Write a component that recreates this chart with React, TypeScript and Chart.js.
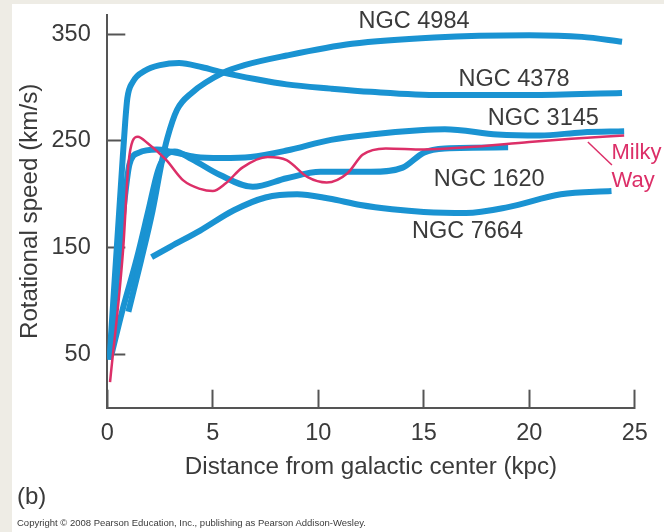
import React, { useEffect, useRef } from 'react';
import { Chart, registerables } from 'chart.js';

Chart.register(...registerables);

const FONT = "'Liberation Sans', Arial, Helvetica, sans-serif";
const BLUE = '#1a93d2';
const PINK = '#dc2f68';
const TEXT = '#3a3a3a';
const AXIS = '#555555';

// Axis ticks
const xTickStep = 5;
const yTicks = [50, 150, 250, 350];

// Distance from galactic center (kpc) / rotational speed (km/s)
const ngc4984X = [1.0, 1.6, 2.15, 2.6, 2.85, 3.3, 4.0, 5.5, 6.5, 8.5, 11.6, 15.5, 20.0, 22.5, 24.4];
const ngc4984Y = [90, 138, 185, 232, 253, 279, 295, 314, 321, 330, 341, 347, 349, 347.5, 343];

const ngc4378X = [0.1, 0.45, 0.7, 0.85, 0.95, 1.2, 1.8, 2.5, 3.4, 4.5, 5.5, 7.0, 8.5, 10.6, 12.5, 15.8, 20.0, 24.4];
const ngc4378Y = [45, 150, 225, 268, 290, 305, 316, 321, 323, 319, 314, 308, 303, 299, 296, 293, 293, 295];

const ngc3145X = [0.1, 0.6, 0.85, 1.05, 1.5, 2.35, 3.0, 4.2, 5.4, 6.8, 8.5, 10.6, 12.5, 14.8, 16.0, 18.5, 20.5, 22.5, 24.5];
const ngc3145Y = [45, 150, 200, 228, 239, 242, 240, 235, 234, 235, 241, 251, 256, 260, 261, 256, 255, 258, 259];

const ngc1620X = [0.2, 0.7, 1.4, 1.95, 2.4, 2.75, 3.2, 4.0, 5.35, 6.9, 8.5, 10.1, 12.5, 14.0, 15.0, 16.0, 19.0];
const ngc1620Y = [50, 90, 140, 185, 222, 236, 240, 233, 218, 207, 215, 221, 221, 225, 239, 243, 244];

const ngc7664X = [2.1, 3.0, 4.4, 6.0, 7.5, 9.0, 10.5, 12.0, 13.5, 15.0, 17.0, 19.0, 21.5, 23.9];
const ngc7664Y = [141, 151, 166, 185, 197, 200, 196, 190, 186, 183.5, 182.5, 188, 200, 203];

const milkyWayX = [0.13, 0.75, 1.0, 1.2, 1.45, 1.9, 2.8, 3.6, 4.4, 5.0, 5.6, 6.4, 7.6, 8.5, 9.5, 10.4, 11.4, 12.1, 13.2, 15.0, 17.0, 20.0, 22.0, 24.5];
const milkyWayY = [24, 148, 228, 250, 254, 248, 232, 213, 205, 203, 210, 225, 235, 232, 216, 211, 220, 237, 243, 242, 244, 249, 252, 255];

// Curve labels (anchored in data units: left edge, baseline)
const labelNames = ['NGC 4984', 'NGC 4378', 'NGC 3145', 'NGC 1620', 'NGC 7664'];
const labelX = [11.91, 16.65, 18.04, 15.47, 14.44];
const labelY = [355.6, 301.5, 265, 207.8, 158.8];
const mwLabelLines = ['Milky', 'Way'];
const mwLabelX = 23.9;
const mwLabelY = [232.7, 206.8];
const mwLeaderX = [22.78, 23.92];
const mwLeaderY = [249, 227.5];

const pts = (xs: number[], ys: number[]) => xs.map((x, i) => ({ x, y: ys[i] }));

const labelPlugin = {
  id: 'curveLabels',
  afterDatasetsDraw(chart: any) {
    const { ctx, scales } = chart;
    const xs = scales.x;
    const ys = scales.y;
    ctx.save();
    ctx.textAlign = 'left';
    ctx.textBaseline = 'alphabetic';
    ctx.font = `23.5px ${FONT}`;
    ctx.fillStyle = TEXT;
    labelNames.forEach((t, i) => {
      ctx.fillText(t, xs.getPixelForValue(labelX[i]), ys.getPixelForValue(labelY[i]));
    });
    ctx.strokeStyle = PINK;
    ctx.lineWidth = 1.5;
    ctx.beginPath();
    ctx.moveTo(xs.getPixelForValue(mwLeaderX[0]), ys.getPixelForValue(mwLeaderY[0]));
    ctx.lineTo(xs.getPixelForValue(mwLeaderX[1]), ys.getPixelForValue(mwLeaderY[1]));
    ctx.stroke();
    ctx.fillStyle = PINK;
    ctx.font = `22px ${FONT}`;
    mwLabelLines.forEach((t, i) => {
      ctx.fillText(t, xs.getPixelForValue(mwLabelX), ys.getPixelForValue(mwLabelY[i]));
    });
    ctx.restore();
  },
};

export default function App() {
  const ref = useRef<HTMLCanvasElement | null>(null);

  useEffect(() => {
    if (!ref.current) return;
    const blue = (data: { x: number; y: number }[], label: string) => ({
      label,
      data,
      borderColor: BLUE,
      borderWidth: 6,
      pointRadius: 0,
      fill: false,
      cubicInterpolationMode: 'monotone' as const,
      borderCapStyle: 'butt' as const,
      order: 2,
    });
    const chart = new Chart(ref.current, {
      type: 'line',
      data: {
        datasets: [
          {
            label: 'Milky Way',
            data: pts(milkyWayX, milkyWayY),
            borderColor: PINK,
            borderWidth: 2.5,
            pointRadius: 0,
            fill: false,
            cubicInterpolationMode: 'monotone',
            order: 1,
          },
          blue(pts(ngc4984X, ngc4984Y), 'NGC 4984'),
          blue(pts(ngc4378X, ngc4378Y), 'NGC 4378'),
          blue(pts(ngc3145X, ngc3145Y), 'NGC 3145'),
          blue(pts(ngc1620X, ngc1620Y), 'NGC 1620'),
          blue(pts(ngc7664X, ngc7664Y), 'NGC 7664'),
        ] as any,
      },
      options: {
        animation: false,
        responsive: false,
        devicePixelRatio: 1,
        layout: { padding: { left: 0, top: 15, right: 29.3, bottom: 0 } },
        plugins: {
          legend: { display: false },
          tooltip: { enabled: false },
        },
        scales: {
          x: {
            type: 'linear',
            min: 0,
            max: 25,
            ticks: {
              stepSize: xTickStep,
              padding: 30.2,
              color: TEXT,
              font: { family: FONT, size: 23.5 },
            },
            grid: {
              drawOnChartArea: false,
              tickLength: -18,
              tickColor: AXIS,
              tickWidth: 2,
            },
            border: { display: true, color: AXIS, width: 2 },
            title: {
              display: true,
              text: 'Distance from galactic center (kpc)',
              color: TEXT,
              font: { family: FONT, size: 24.2 },
              padding: { top: 0, bottom: 50.5 },
            },
            afterFit: (s: any) => {
              s.height = 124.3;
              s.paddingLeft = 0;
              s.paddingRight = 0;
              s.paddingTop = 0;
              s.paddingBottom = 0;
            },
          },
          y: {
            type: 'linear',
            min: 0,
            max: 368,
            afterBuildTicks: (s: any) => {
              s.ticks = yTicks.map((v) => ({ value: v }));
            },
            ticks: {
              padding: 34.6,
              color: TEXT,
              font: { family: FONT, size: 23.5 },
            },
            grid: {
              drawOnChartArea: false,
              tickLength: -18,
              tickColor: AXIS,
              tickWidth: 2,
            },
            border: { display: true, color: AXIS, width: 2 },
            title: {
              display: true,
              text: 'Rotational speed (km/s)',
              color: TEXT,
              font: { family: FONT, size: 24.2 },
              padding: { top: 15.7, bottom: 0 },
            },
            afterFit: (s: any) => {
              s.width = 107.3;
              s.paddingLeft = 0;
              s.paddingRight = 0;
              s.paddingTop = 0;
              s.paddingBottom = 0;
            },
          },
        },
      } as any,
      plugins: [labelPlugin],
    });
    return () => chart.destroy();
  }, []);

  return (
    <div
      style={{
        position: 'fixed',
        left: 0,
        top: 0,
        width: 664,
        height: 532,
        background: '#eeece5',
        overflow: 'hidden',
      }}
    >
      <div style={{ position: 'absolute', left: 12, top: 4, right: 0, bottom: 0, background: '#ffffff' }} />
      <canvas
        ref={ref}
        width={664}
        height={532}
        style={{ position: 'absolute', left: 0, top: 0, width: 664, height: 532 }}
      />
      <div
        style={{
          position: 'absolute',
          left: 17,
          top: 484,
          fontFamily: FONT,
          fontSize: 24,
          lineHeight: '24px',
          color: TEXT,
          whiteSpace: 'nowrap',
        }}
      >
        (b)
      </div>
      <div
        style={{
          position: 'absolute',
          left: 17,
          top: 518,
          fontFamily: FONT,
          fontSize: 9.5,
          lineHeight: '9.5px',
          color: TEXT,
          whiteSpace: 'nowrap',
        }}
      >
        Copyright © 2008 Pearson Education, Inc., publishing as Pearson Addison-Wesley.
      </div>
    </div>
  );
}
